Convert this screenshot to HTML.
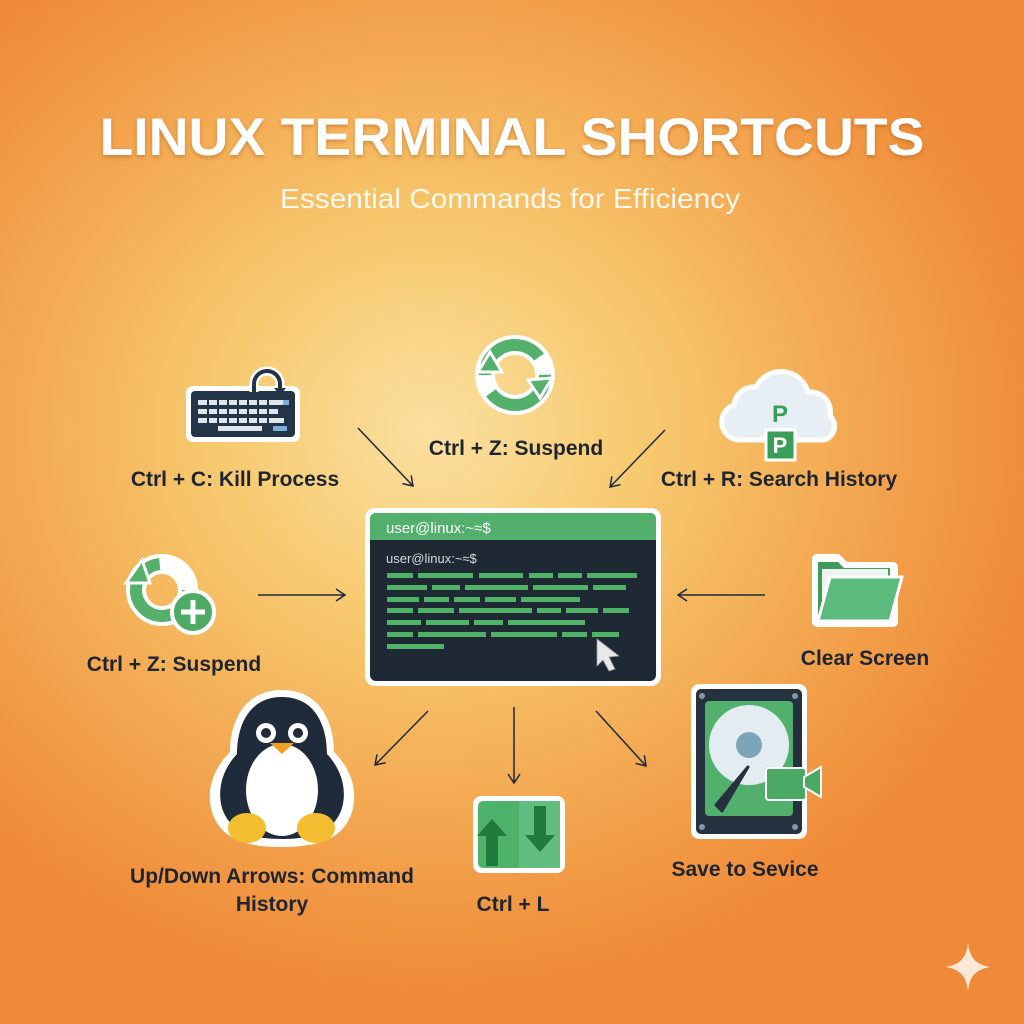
<!DOCTYPE html>
<html><head><meta charset="utf-8"><style>
html,body{margin:0;padding:0;width:1024px;height:1024px;overflow:hidden}
body{background:radial-gradient(ellipse 620px 560px at 430px 430px,#fae0a0 0%,#f7c96e 35%,#f3a650 70%,#ef8a38 100%);}
svg{position:absolute;left:0;top:0}
text{font-family:"Liberation Sans","DejaVu Sans",sans-serif}
</style></head><body>
<svg width="1024" height="1024" viewBox="0 0 1024 1024">
<defs>
<marker id="ah" markerWidth="14" markerHeight="14" refX="11" refY="7" orient="auto" markerUnits="userSpaceOnUse"><path d="M2,1 L11,7 L2,13" fill="none" stroke="#1e2838" stroke-width="1.5"/></marker>
<filter id="sh"><feDropShadow dx="0" dy="2" stdDeviation="2" flood-color="#a0501a" flood-opacity="0.45"/></filter>
</defs>
<text x="512" y="155" text-anchor="middle" font-size="53" font-weight="900" fill="#fff" filter="url(#sh)" textLength="825" lengthAdjust="spacingAndGlyphs">LINUX TERMINAL SHORTCUTS</text>
<text x="510" y="208" text-anchor="middle" font-size="28" fill="#fff8ec" textLength="460" lengthAdjust="spacingAndGlyphs">Essential Commands for Efficiency</text>

<g stroke="#1e2838" stroke-width="1.5" fill="none" marker-end="url(#ah)">
<line x1="358" y1="428" x2="413" y2="486"/>
<line x1="665" y1="430" x2="610" y2="487"/>
<line x1="258" y1="595" x2="345" y2="595"/>
<line x1="765" y1="595" x2="678" y2="595"/>
<line x1="428" y1="711" x2="375" y2="765"/>
<line x1="514" y1="707" x2="514" y2="783"/>
<line x1="596" y1="711" x2="646" y2="766"/>
</g>

<rect x="365" y="508" width="296" height="178" rx="10" fill="#fff"/>
<rect x="370" y="513" width="286" height="168" rx="6" fill="#1f2933"/>
<path d="M370,540 V519 a6,6 0 0 1 6,-6 H650 a6,6 0 0 1 6,6 V540 Z" fill="#52b06c"/>
<text x="386" y="533" font-size="15" fill="#fff">user@linux:~≈$</text>
<text x="386" y="563" font-size="13" fill="#d6d9de">user@linux:~≈$</text>
<g fill="#4fb266">
<rect x="387" y="573" width="26" height="5"/><rect x="418" y="573" width="55" height="5"/><rect x="479" y="573" width="44" height="5"/><rect x="529" y="573" width="24" height="5"/><rect x="558" y="573" width="24" height="5"/><rect x="587" y="573" width="50" height="5"/>
<rect x="387" y="585" width="40" height="5"/><rect x="432" y="585" width="28" height="5"/><rect x="465" y="585" width="63" height="5"/><rect x="533" y="585" width="55" height="5"/><rect x="593" y="585" width="33" height="5"/>
<rect x="387" y="597" width="32" height="5"/><rect x="424" y="597" width="25" height="5"/><rect x="454" y="597" width="26" height="5"/><rect x="485" y="597" width="31" height="5"/><rect x="521" y="597" width="59" height="5"/>
<rect x="387" y="608" width="26" height="5"/><rect x="418" y="608" width="36" height="5"/><rect x="459" y="608" width="73" height="5"/><rect x="537" y="608" width="24" height="5"/><rect x="566" y="608" width="32" height="5"/><rect x="603" y="608" width="26" height="5"/>
<rect x="387" y="620" width="34" height="5"/><rect x="426" y="620" width="43" height="5"/><rect x="474" y="620" width="29" height="5"/><rect x="508" y="620" width="77" height="5"/>
<rect x="387" y="632" width="26" height="5"/><rect x="418" y="632" width="68" height="5"/><rect x="491" y="632" width="66" height="5"/><rect x="562" y="632" width="25" height="5"/><rect x="592" y="632" width="27" height="5"/>
<rect x="387" y="644" width="57" height="5"/>
</g>
<path d="M597,639 L619,656 L609,657 L615,669 L609,671 L603,660 L597,666 Z" fill="#e8e8e8" stroke="#999" stroke-width="0.8"/>

<rect x="186" y="386" width="114" height="56" rx="7" fill="#fff"/>
<rect x="191" y="391" width="104" height="46" rx="4" fill="#243447"/>
<path d="M254,392 v-8 a13,13 0 1 1 26,0 v6" fill="none" stroke="#fff" stroke-width="9"/>
<path d="M254,392 v-8 a13,13 0 1 1 26,0 v6" fill="none" stroke="#243447" stroke-width="4"/>
<path d="M274,388 h12 l-6,7z" fill="#243447"/>
<g fill="#dfe6ee">
<rect x="198" y="400" width="86" height="5"/><rect x="198" y="409" width="80" height="5"/><rect x="198" y="418" width="86" height="5"/><rect x="218" y="426" width="44" height="5"/>
</g>
<g fill="#243447"><rect x="207" y="400" width="2" height="23"/><rect x="217" y="400" width="2" height="23"/><rect x="227" y="400" width="2" height="23"/><rect x="237" y="400" width="2" height="23"/><rect x="247" y="400" width="2" height="23"/><rect x="257" y="400" width="2" height="23"/><rect x="267" y="400" width="2" height="23"/></g>
<g fill="#7ab0dc"><rect x="283" y="400" width="6" height="5"/><rect x="273" y="426" width="14" height="5"/></g>
<text x="235" y="486" text-anchor="middle" font-size="21" font-weight="700" fill="#1e2530">Ctrl + C: Kill Process</text>

<circle cx="515" cy="375" r="30" fill="none" stroke="#fff" stroke-width="20"/>
<circle cx="515" cy="375" r="30" fill="none" stroke="#55b06c" stroke-width="12" stroke-dasharray="75 19"/>
<path d="M478,372 L490,352 L502,372Z M528,380 L540,398 L552,378Z" fill="#55b06c" stroke="#fff" stroke-width="3"/>
<text x="516" y="455" text-anchor="middle" font-size="21" font-weight="700" fill="#1e2530">Ctrl + Z: Suspend</text>

<path d="M738,440 a18,18 0 0 1 -4,-35 a20,20 0 0 1 22,-18 a28,28 0 0 1 52,5 a20,20 0 0 1 22,24 a14,14 0 0 1 -6,24 Z" fill="#e8eff4" stroke="#fff" stroke-width="5"/>
<text x="780" y="422" text-anchor="middle" font-size="24" font-weight="700" fill="#3a9e58">P</text>
<rect x="766" y="430" width="29" height="30" fill="#3a9e58" stroke="#fff" stroke-width="3"/>
<text x="780" y="453" text-anchor="middle" font-size="22" font-weight="700" fill="#fff">P</text>
<text x="779" y="486" text-anchor="middle" font-size="21" font-weight="700" fill="#1e2530">Ctrl + R: Search History</text>

<circle cx="162" cy="590" r="26" fill="none" stroke="#fff" stroke-width="20"/>
<circle cx="162" cy="590" r="26" fill="none" stroke="#55b06c" stroke-width="12" stroke-dasharray="120 44"/>
<path d="M126,583 L142,560 L150,583Z" fill="#55b06c" stroke="#fff" stroke-width="3"/>
<circle cx="193" cy="612" r="21" fill="#4faa66" stroke="#fff" stroke-width="4"/>
<path d="M193,600 v24 M181,612 h24" stroke="#fff" stroke-width="5"/>
<text x="174" y="671" text-anchor="middle" font-size="21" font-weight="700" fill="#1e2530">Ctrl + Z: Suspend</text>

<path d="M812,560 a5,5 0 0 1 5,-6 h22 l8,8 h46 a5,5 0 0 1 5,5 v55 a5,5 0 0 1 -5,5 h-76 a5,5 0 0 1 -5,-5Z" fill="#fff"/>
<path d="M818,562 h20 l6,6 h46 v50 h-72Z" fill="#3f9a5c"/>
<rect x="822" y="569" width="66" height="40" fill="#eef3f0"/>
<path d="M830,577 h72 l-12,44 h-72Z" fill="#5cba7c" stroke="#fff" stroke-width="3"/>
<text x="865" y="665" text-anchor="middle" font-size="21" font-weight="700" fill="#1e2530">Clear Screen</text>

<path d="M282,690 c-40,0 -52,35 -52,62 c-18,18 -24,40 -18,60 c8,25 30,35 70,35 c40,0 62,-10 70,-35 c6,-20 0,-42 -18,-60 c0,-27 -12,-62 -52,-62Z" fill="#fff"/>
<path d="M282,697 c-34,0 -45,30 -45,57 c-15,16 -20,36 -15,54 c7,22 27,31 60,31 c33,0 53,-9 60,-31 c5,-18 0,-38 -15,-54 c0,-27 -11,-57 -45,-57Z" fill="#1f2b3a"/>
<ellipse cx="282" cy="790" rx="36" ry="46" fill="#fff"/>
<circle cx="266" cy="733" r="10" fill="#fff"/><circle cx="298" cy="733" r="10" fill="#fff"/>
<circle cx="266" cy="733" r="5" fill="#1f2b3a"/><circle cx="298" cy="733" r="5" fill="#1f2b3a"/>
<path d="M270,743 h24 l-12,11Z" fill="#f0a020"/>
<ellipse cx="247" cy="828" rx="19" ry="15" fill="#f2bd2e"/>
<ellipse cx="316" cy="828" rx="19" ry="15" fill="#f2bd2e"/>
<text x="272" y="883" text-anchor="middle" font-size="21" font-weight="700" fill="#1e2530">Up/Down Arrows: Command</text>
<text x="272" y="911" text-anchor="middle" font-size="21" font-weight="700" fill="#1e2530">History</text>

<rect x="473" y="796" width="92" height="77" rx="8" fill="#fff"/>
<rect x="478" y="801" width="82" height="67" rx="5" fill="#4fb26a"/>
<rect x="519" y="801" width="41" height="67" fill="#62bd7e"/>
<path d="M477,836 l15,-17 l15,17 h-9 v30 h-12 v-30Z" fill="#1f7a3c"/>
<path d="M525,835 l15,17 l15,-17 h-9 v-29 h-12 v29Z" fill="#1f7a3c"/>
<text x="513" y="911" text-anchor="middle" font-size="21" font-weight="700" fill="#1e2530">Ctrl + L</text>

<rect x="691" y="684" width="116" height="155" rx="8" fill="#fff"/>
<rect x="696" y="689" width="106" height="145" rx="5" fill="#26313f"/>
<rect x="705" y="701" width="88" height="115" rx="4" fill="#52b06c"/>
<circle cx="749" cy="745" r="40" fill="#e3ecf1"/>
<circle cx="749" cy="745" r="13" fill="#7ea4ba"/>
<path d="M748,767 L716,805 L722,811 Z" fill="#26313f" stroke="#26313f" stroke-width="3" stroke-linejoin="round"/>
<rect x="766" y="768" width="40" height="32" rx="3" fill="#4aa965" stroke="#fff" stroke-width="2"/>
<path d="M804,777 l17,-10 v30 l-17,-10Z" fill="#4aa965" stroke="#fff" stroke-width="2"/>
<g fill="#8a96a4"><circle cx="702" cy="696" r="3"/><circle cx="795" cy="696" r="3"/><circle cx="702" cy="827" r="3"/><circle cx="795" cy="827" r="3"/></g>
<text x="745" y="876" text-anchor="middle" font-size="21" font-weight="700" fill="#1e2530">Save to Sevice</text>

<path d="M968,943 C970,958 975,964 990,967 C975,970 970,976 968,991 C966,976 961,970 946,967 C961,964 966,958 968,943Z" fill="#fff" opacity="0.8"/>
</svg>
</body></html>
